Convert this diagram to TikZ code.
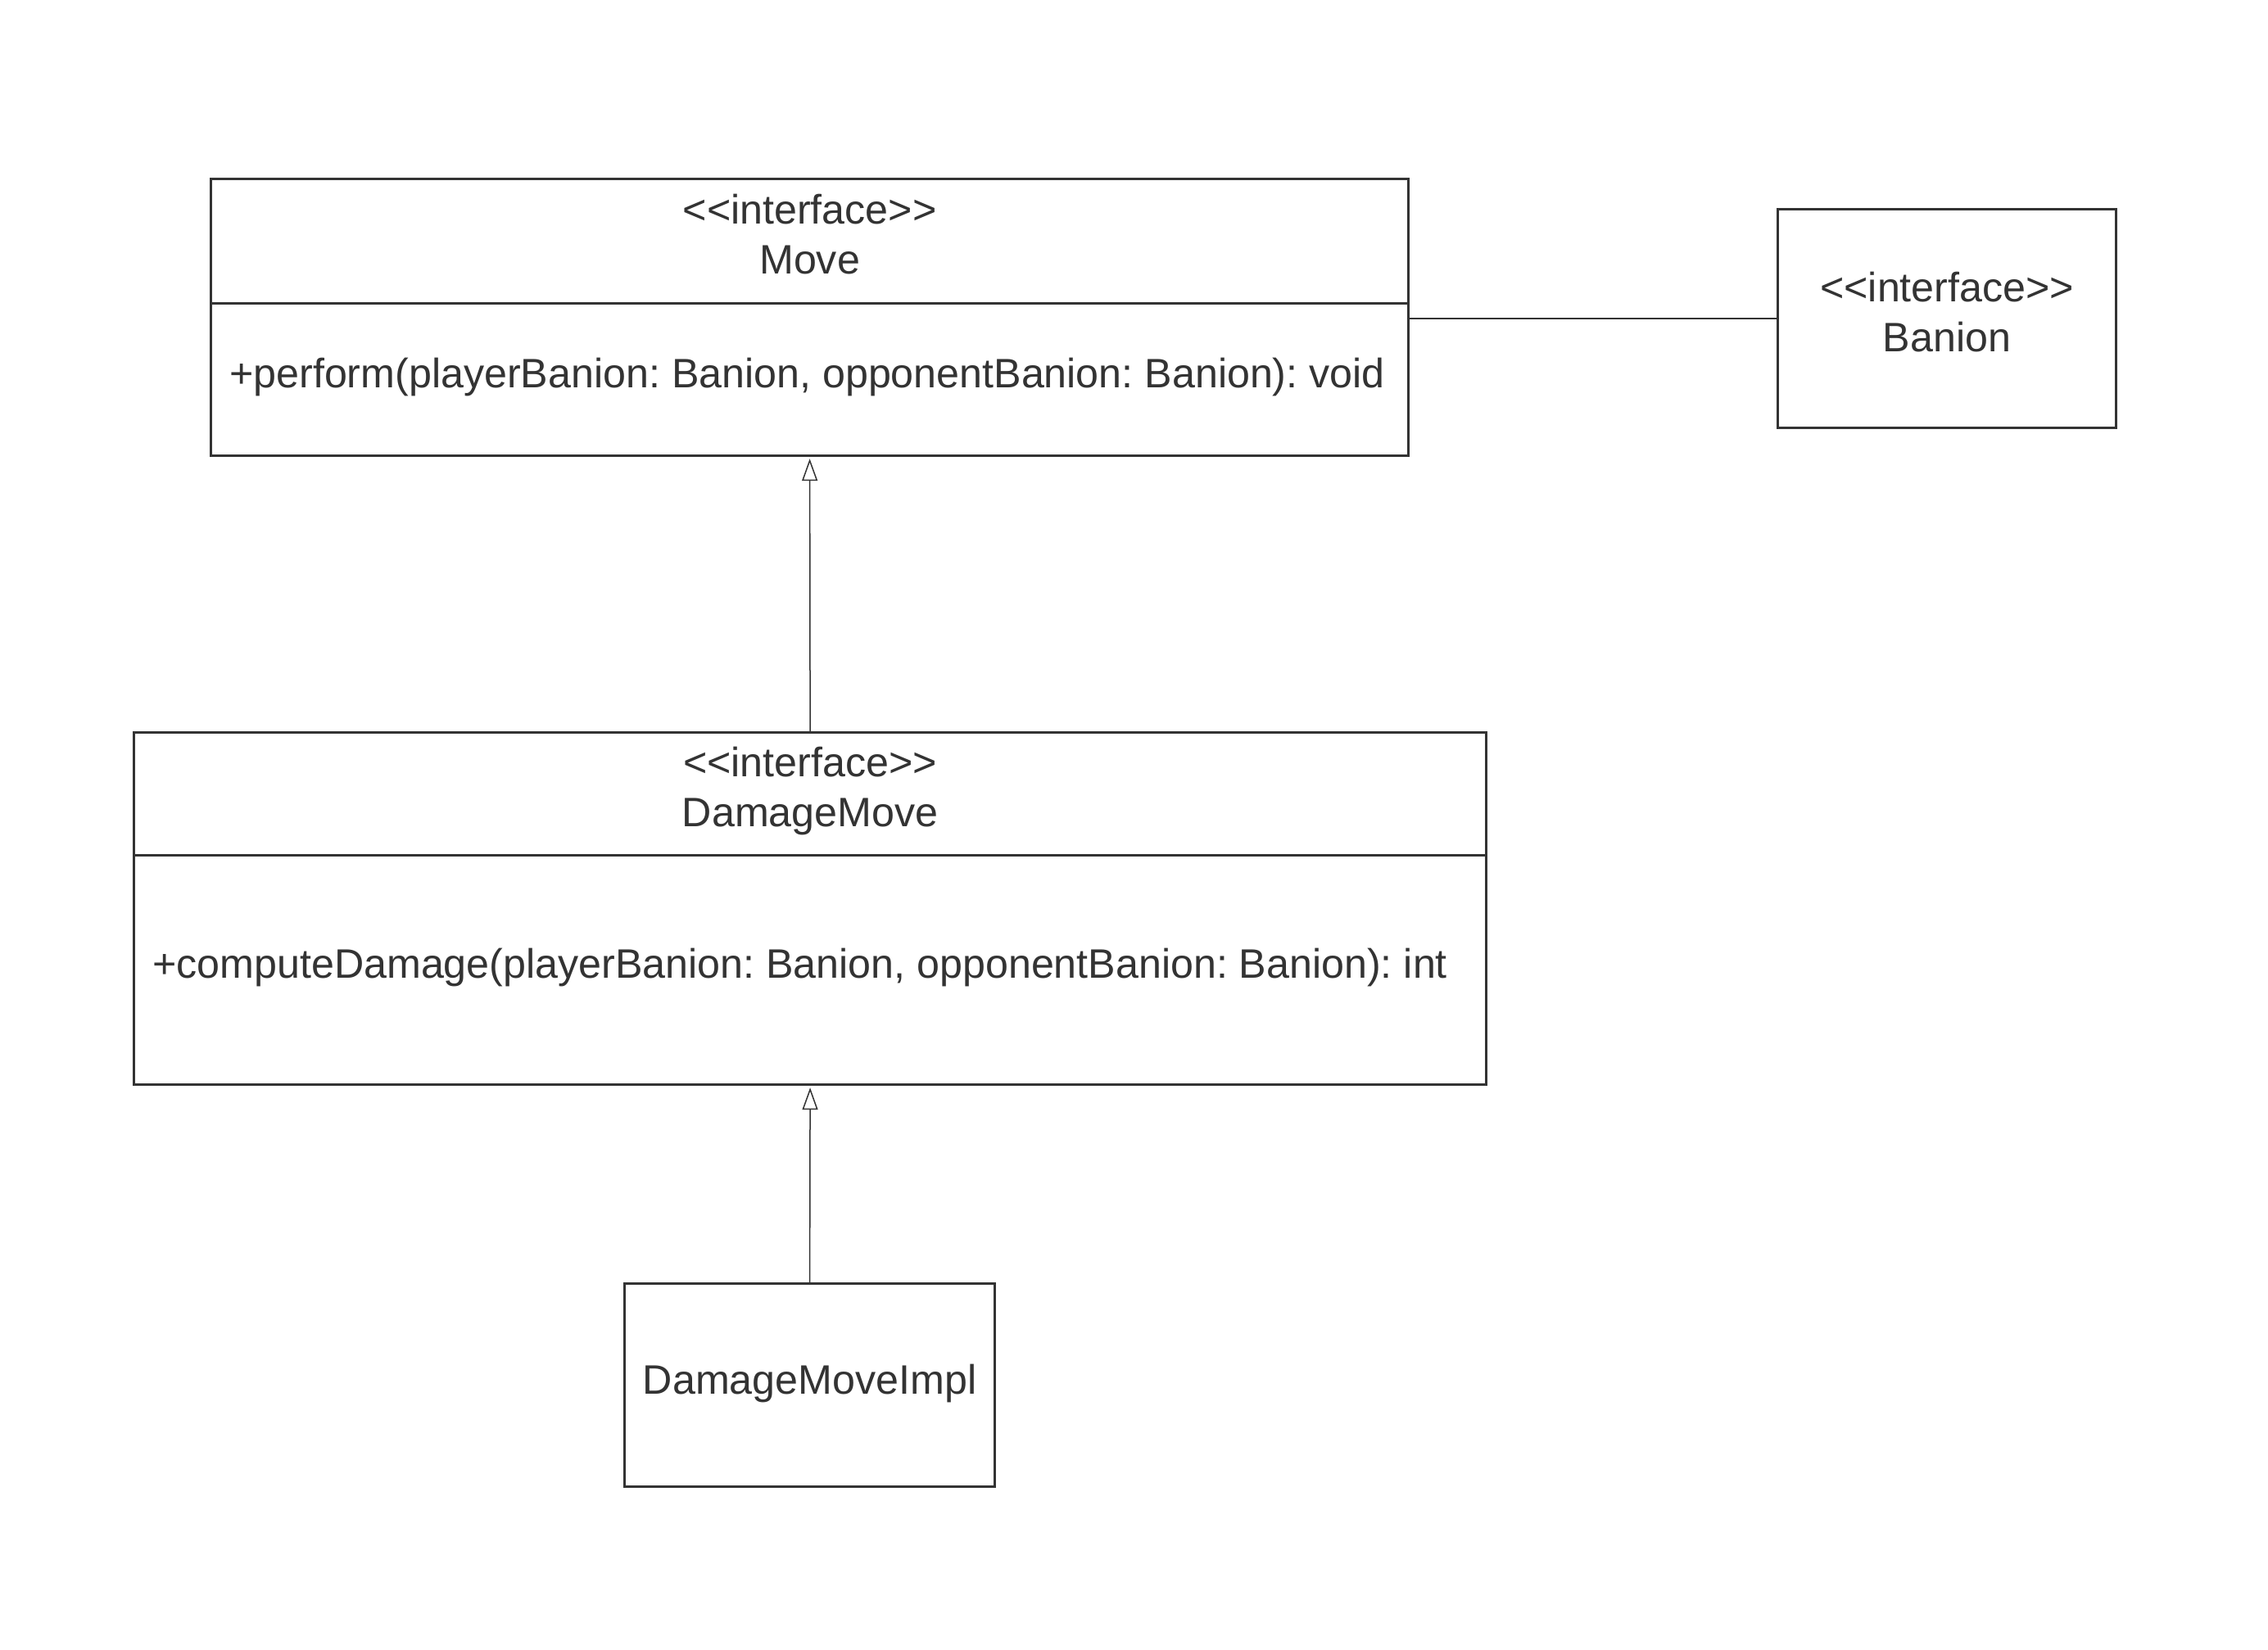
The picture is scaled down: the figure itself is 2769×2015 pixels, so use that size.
\documentclass[tikz,border=0pt]{standalone}
\usepackage{fontspec}
\setmainfont{Liberation Sans}
\usetikzlibrary{arrows.meta}
\definecolor{ink}{HTML}{333333}
\newcommand\stereo[1]{<\kern0pt<#1>\kern0pt>}
\frenchspacing
\begin{document}
\begin{tikzpicture}[x=1pt,y=-1pt,
  box/.style={draw=ink, line width=3.2pt, inner sep=0pt, anchor=north west, fill=white},
  lbl/.style={text=ink, font=\fontsize{50.2}{61}\selectfont\frenchspacing, align=center, inner sep=0pt},
  meth/.style={text=ink, font=\fontsize{50.2}{61}\selectfont\frenchspacing, anchor=west, inner sep=0pt},
  conn/.style={draw=ink, line width=1.5pt},
  realize/.style={conn, shorten >=2pt, -{Triangle[open, length=27pt, width=19pt, line width=1.5pt]}}
]
\useasboundingbox[fill=white] (0,0) rectangle (2769,2015);
% Move
\node[box, minimum width=1462pt, minimum height=152pt] (movehead) at (256,217) {};
\node[box, minimum width=1462pt, minimum height=186pt] (movebody) at (256,369) {};
\node[lbl, yshift=9pt] (movetitle) at (movehead.center) {\stereo{interface}\\Move};
\node[meth, yshift=3pt] (moveop) at ([xshift=24pt]movebody.west) {+perform(playerBanion: Banion, opponentBanion: Banion): void};
% Banion
\node[box, minimum width=413pt, minimum height=267pt] (banion) at (2169,254) {};
\node[lbl, yshift=8pt] (baniontitle) at (banion.center) {\stereo{interface}\\Banion};
% DamageMove
\node[box, minimum width=1651pt, minimum height=150pt] (dmhead) at (162,893) {};
\node[box, minimum width=1651pt, minimum height=280pt] (dmbody) at (162,1043) {};
\node[lbl, yshift=4pt] (dmtitle) at (dmhead.center) {\stereo{interface}\\DamageMove};
\node[meth, yshift=3pt] (dmop) at ([xshift=24pt]dmbody.west) {+computeDamage(playerBanion: Banion, opponentBanion: Banion): int};
% DamageMoveImpl
\node[box, minimum width=452pt, minimum height=248pt] (impl) at (761,1566) {};
\node[lbl, yshift=2pt] (impltitle) at (impl.center) {DamageMoveImpl};
% connectors
\draw[conn] (banion.west -| movebody.east) -- (banion.west);
\draw[realize] (dmhead.north) -- (movebody.south);
\draw[realize] (impl.north) -- (dmbody.south);
\end{tikzpicture}
\end{document}
